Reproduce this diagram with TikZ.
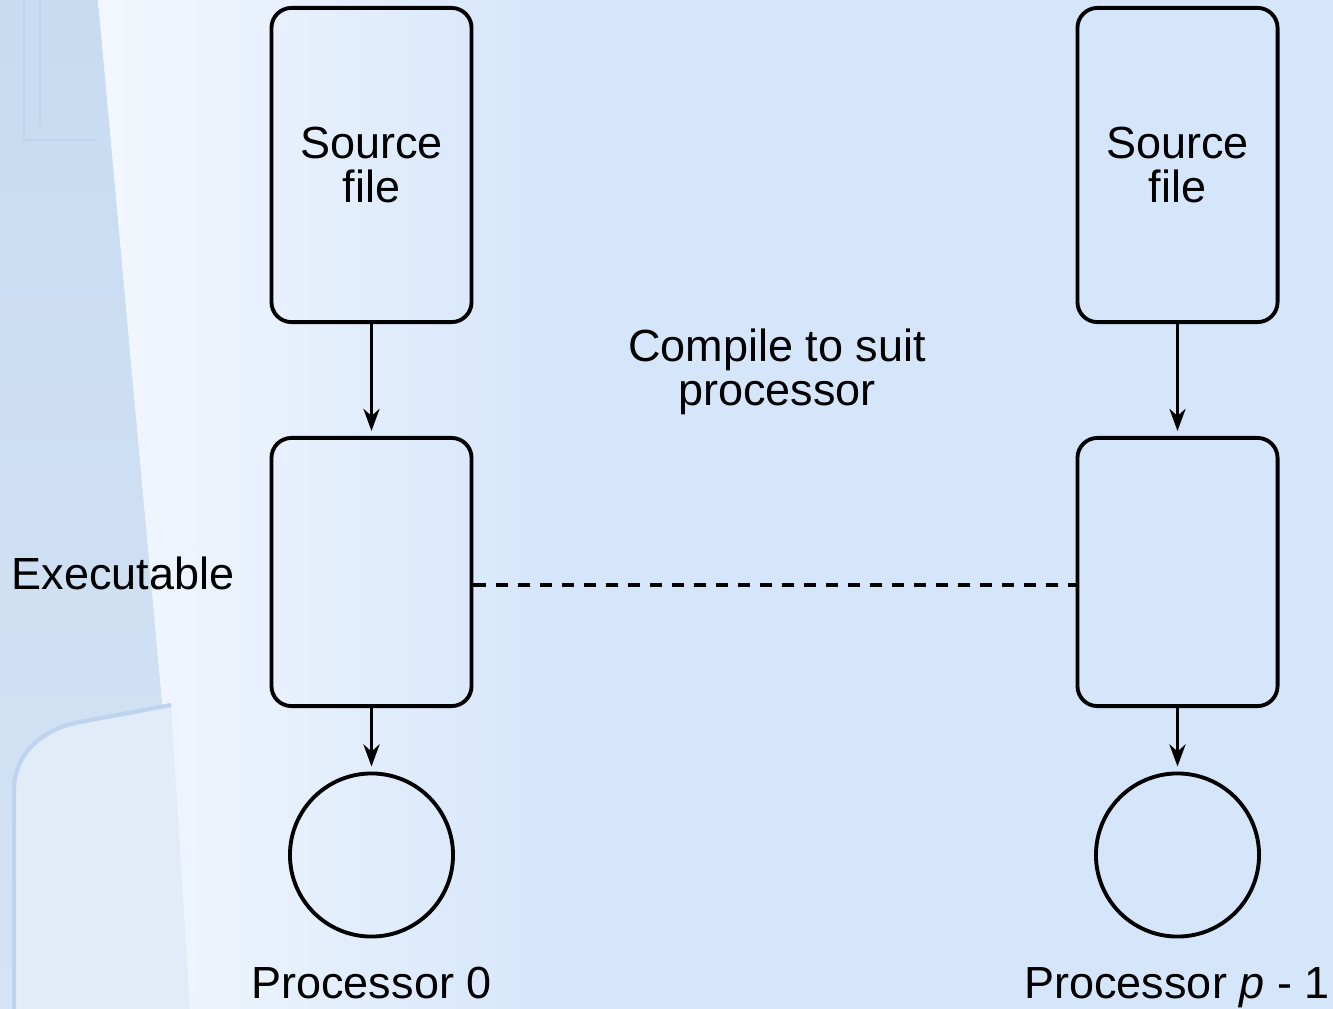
\documentclass[tikz,border=0pt]{standalone}
\usepackage{fontspec}
\setmainfont{Liberation Sans}
\usepackage{xcolor}
\usepackage{tikz}
\usetikzlibrary{arrows.meta}
\definecolor{slidebg}{HTML}{D5E6FB}
\definecolor{pillartop}{HTML}{C8DBF1}
\definecolor{pillarbot}{HTML}{D4E3F5}
\definecolor{shaft}{HTML}{E2ECF8}
\definecolor{flute}{HTML}{BED3EE}
\definecolor{haze}{HTML}{F3F7FD}
\newcommand{\slidefont}{\fontsize{12.8}{12.6}\selectfont}
\tikzstyle{file box}=[draw=black, line width=1.1pt, rounded corners=0.2cm, minimum width=2.0cm, minimum height=3.14cm, align=center, font=\slidefont]
\tikzstyle{exe box}=[file box, minimum height=2.68cm]
\tikzstyle{proc}=[draw=black, line width=1.1pt, shape=circle, minimum size=1.63cm]
\tikzstyle{tag}=[align=center, font=\slidefont, inner sep=0pt]
\tikzstyle{arrow edge}=[-{Stealth[length=0.22cm, width=0.16cm, inset=0.07cm]}, draw=black, line width=1.1pt, shorten >=0.05cm]
\tikzstyle{dashed edge}=[-, draw=black, line width=0.9pt, dash pattern=on 0.12cm off 0.1cm]
\pgfdeclarelayer{bglayer}
\pgfdeclarelayer{nodelayer}
\pgfdeclarelayer{edgelayer}
\pgfsetlayers{bglayer,edgelayer,nodelayer,main}

\begin{document}
\begin{tikzpicture}[x=0.01cm, y=-0.01cm]
	\useasboundingbox (0,0) rectangle (1333,1009);
	\begin{pgfonlayer}{bglayer}
		% slide backdrop with the column on the left
		\fill [slidebg] (0,0) rectangle (1333,1009);
		\shade [top color=pillartop, bottom color=pillarbot] (0,0) -- (98,0) -- (190,1009) -- (0,1009) -- cycle;
		\shade [left color=haze, right color=slidebg] (98,0) -- (560,0) -- (560,1009) -- (190,1009) -- cycle;
		\draw [flute, line width=0.8pt] (24,0) -- (24,140) -- (95,140);
		\draw [flute, line width=0.8pt] (40,0) -- (40,125);
		% lit shaft below the capital
		\fill [shaft] (14,1009) -- (14,790) to[out=90, in=190] (80,722) -- (171,705) -- (190,1009) -- cycle;
		\draw [flute, line width=1.2pt] (14,1009) -- (14,790) to[out=90, in=190] (80,722) -- (171,705);
	\end{pgfonlayer}
	\begin{pgfonlayer}{nodelayer}
		\node [style=file box] (0) at (371.5, 165) {Source\\file};
		\node [style=file box] (1) at (1177.5, 165) {Source\\file};
		\node [style=exe box] (2) at (371.5, 572) {};
		\node [style=exe box] (3) at (1177.5, 572) {};
		\node [style=proc] (4) at (371.5, 855) {};
		\node [style=proc] (5) at (1177.5, 855) {};
		\node [style=tag] (6) at (777, 372) {Compile to suit\\processor};
		\node [style=tag, anchor=base] (7) at (123, 589) {Executable};
		\node [style=tag, anchor=base] (8) at (371.5, 998) {Processor 0};
		\node [style=tag, anchor=base] (9) at (1177, 998) {Processor \textit{p} - 1};
	\end{pgfonlayer}
	\begin{pgfonlayer}{edgelayer}
		\draw [style=arrow edge] (0) to (2);
		\draw [style=arrow edge] (1) to (3);
		\draw [style=arrow edge] (2) to (4);
		\draw [style=arrow edge] (3) to (5);
		\draw [style=dashed edge] ([yshift=-1.3mm]2.east) to ([yshift=-1.3mm]3.west);
	\end{pgfonlayer}
\end{tikzpicture}
\end{document}
